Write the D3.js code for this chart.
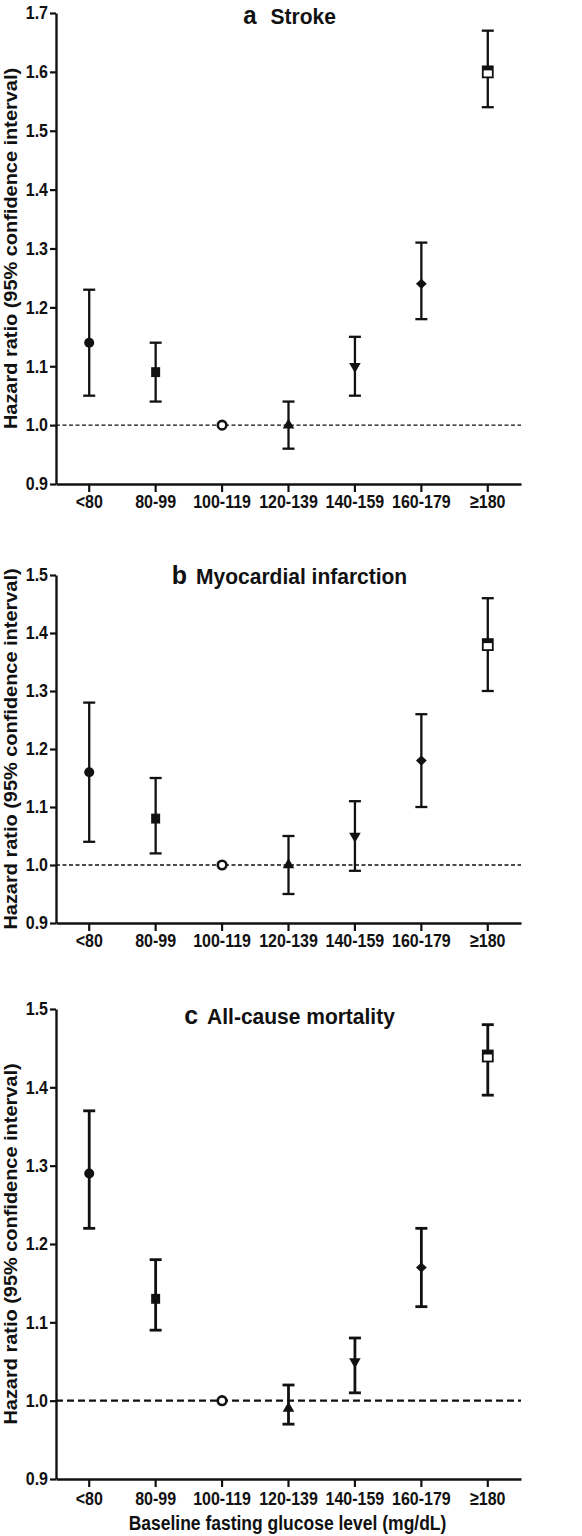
<!DOCTYPE html>
<html><head><meta charset="utf-8">
<script src="https://cdn.jsdelivr.net/npm/d3@7/dist/d3.min.js"></script>
<style>
body{margin:0;background:#fff}
text{font-family:"Liberation Sans",Arial,Helvetica,sans-serif;fill:#111}
</style>
</head><body>
<svg id="chart" width="582" height="1536"></svg>
<script>
// ---- data ----
const categories = ["<80","80-99","100-119","120-139","140-159","160-179","\u2265180"];
const markerShapes = ["circle","square","openCircle","triangleUp","triangleDown","diamond","halfSquare"];

const strokeHR = [1.14,1.09,1.00,1.00,1.10,1.24,1.60];
const strokeLo = [1.05,1.04,null,0.96,1.05,1.18,1.54];
const strokeHi = [1.23,1.14,null,1.04,1.15,1.31,1.67];

const miHR = [1.16,1.08,1.00,1.00,1.05,1.18,1.38];
const miLo = [1.04,1.02,null,0.95,0.99,1.10,1.30];
const miHi = [1.28,1.15,null,1.05,1.11,1.26,1.46];

const mortHR = [1.29,1.13,1.00,0.99,1.05,1.17,1.44];
const mortLo = [1.22,1.09,null,0.97,1.01,1.12,1.39];
const mortHi = [1.37,1.18,null,1.02,1.08,1.22,1.48];

const yTicksA = [0.9,1.0,1.1,1.2,1.3,1.4,1.5,1.6,1.7];
const yTicksB = [0.9,1.0,1.1,1.2,1.3,1.4,1.5];
const yTicksC = [0.9,1.0,1.1,1.2,1.3,1.4,1.5];

const yTitle = "Hazard ratio (95% confidence interval)";
const xTitle = "Baseline fasting glucose level (mg/dL)";
const referenceHR = 1.0;

// ---- layout ----
const panels = [
  {letter:"a", title:"Stroke", hr:strokeHR, lo:strokeLo, hi:strokeHi, ticks:yTicksA,
   top:13, bottom:484, titleY:24, letterSize:24, gap:14, dash:"4,2.5", dashW:1.4, barW:2.3},
  {letter:"b", title:"Myocardial infarction", hr:miHR, lo:miLo, hi:miHi, ticks:yTicksB,
   top:575, bottom:923, titleY:584, letterSize:25, gap:9, dash:"4,2.5", dashW:1.4, barW:2.3},
  {letter:"c", title:"All-cause mortality", hr:mortHR, lo:mortLo, hi:mortHi, ticks:yTicksC,
   top:1009, bottom:1479, titleY:1024, letterSize:25, gap:9, dash:"7,4", dashW:2.2, barW:2.8}
];
const xLeft = 56, xRight = 521;
const SY = 1.2;
const svg = d3.select("#chart");
const x = d3.scaleBand().domain(categories).range([xLeft, xRight]);

panels.forEach((p, pi) => {
  const y = d3.scaleLinear().domain([p.ticks[0], p.ticks[p.ticks.length-1]]).range([p.bottom, p.top]);
  const g = svg.append("g");

  // reference dashed line
  g.append("line")
    .attr("x1", xLeft).attr("x2", xRight)
    .attr("y1", y(referenceHR)).attr("y2", y(referenceHR))
    .attr("stroke", "#111").attr("stroke-width", p.dashW)
    .attr("stroke-dasharray", p.dash);

  // y axis
  const ya = g.append("g").attr("transform", `translate(${xLeft},0)`)
    .call(d3.axisLeft(y).tickValues(p.ticks).tickFormat(d3.format(".1f"))
      .tickSize(6).tickSizeOuter(0).tickPadding(2));
  ya.select(".domain").attr("stroke", "#111").attr("stroke-width", 2.4);
  ya.selectAll(".tick line").attr("stroke", "#111").attr("stroke-width", 2.2);
  ya.selectAll(".tick text")
    .attr("font-size", 16).attr("font-weight", "bold")
    .attr("font-family", "'Liberation Sans', Arial, sans-serif")
    .attr("fill", "#111")
    .attr("dy", "0.30em")
    .attr("transform", `scale(1,${SY})`);

  // x axis
  const xa = g.append("g").attr("transform", `translate(0,${p.bottom})`)
    .call(d3.axisBottom(x).tickSize(8).tickSizeOuter(0).tickPadding(4));
  xa.select(".domain").attr("stroke", "#111").attr("stroke-width", 2.4);
  xa.selectAll(".tick line").attr("stroke", "#111").attr("stroke-width", 2.2);
  xa.selectAll(".tick text")
    .attr("font-size", 16).attr("font-weight", "bold")
    .attr("font-family", "'Liberation Sans', Arial, sans-serif")
    .attr("fill", "#111")
    .attr("y", 0).attr("dy", 0)
    .attr("transform", `translate(0,${pi===2?26:24}) scale(1,${SY})`);

  // y title
  const cy = (p.top + p.bottom) / 2;
  g.append("text")
    .attr("transform", `translate(17,${cy}) scale(1,1.05) rotate(-90)`)
    .attr("text-anchor", "middle")
    .attr("font-size", 19).attr("font-weight", "bold")
    .text(yTitle);

  // panel title
  const t = g.append("text")
    .attr("transform", `translate(${(xLeft + xRight)/2 + 1},${p.titleY}) scale(1,1.05)`)
    .attr("text-anchor", "middle").attr("font-weight", "bold");
  t.append("tspan").attr("font-size", p.letterSize).text(p.letter);
  t.append("tspan").attr("font-size", 21).attr("dx", p.gap).text(p.title);

  // error bars
  const capW = 12;
  const rows = categories.map((c, i) => ({c, i, hr:p.hr[i], lo:p.lo[i], hi:p.hi[i], shape:markerShapes[i]}));
  const withCI = rows.filter(d => d.lo !== null);
  const cx = d => x(d.c) + x.bandwidth()/2;
  g.selectAll(".bar").data(withCI).enter().append("line")
    .attr("x1", cx).attr("x2", cx)
    .attr("y1", d => y(d.lo)).attr("y2", d => y(d.hi))
    .attr("stroke", "#111").attr("stroke-width", p.barW);
  g.selectAll(".capHi").data(withCI).enter().append("line")
    .attr("x1", d => cx(d) - capW/2).attr("x2", d => cx(d) + capW/2)
    .attr("y1", d => y(d.hi)).attr("y2", d => y(d.hi))
    .attr("stroke", "#111").attr("stroke-width", p.barW);
  g.selectAll(".capLo").data(withCI).enter().append("line")
    .attr("x1", d => cx(d) - capW/2).attr("x2", d => cx(d) + capW/2)
    .attr("y1", d => y(d.lo)).attr("y2", d => y(d.lo))
    .attr("stroke", "#111").attr("stroke-width", p.barW);

  // markers
  rows.forEach(d => {
    const mx = cx(d), my = y(d.hr);
    const m = g.append("g").attr("transform", `translate(${mx},${my})`);
    if (d.shape === "circle") {
      m.append("circle").attr("r", 5).attr("fill", "#111");
    } else if (d.shape === "square") {
      m.append("path").attr("d", d3.symbol().type(d3.symbolSquare).size(81)()).attr("fill", "#111")
        .attr("transform", "scale(1,1.1)");
    } else if (d.shape === "openCircle") {
      m.append("circle").attr("r", 4.3).attr("fill", "#fff").attr("stroke", "#111").attr("stroke-width", 2.6);
    } else if (d.shape === "triangleUp") {
      m.append("path").attr("d", d3.symbol().type(d3.symbolTriangle).size(58)()).attr("fill", "#111");
    } else if (d.shape === "triangleDown") {
      m.append("path").attr("d", d3.symbol().type(d3.symbolTriangle).size(58)()).attr("fill", "#111")
        .attr("transform", "rotate(180)");
    } else if (d.shape === "diamond") {
      m.append("path").attr("d", d3.symbol().type(d3.symbolSquare).size(58)()).attr("fill", "#111")
        .attr("transform", "scale(1,0.95) rotate(45)");
    } else if (d.shape === "halfSquare") {
      m.append("rect").attr("x", -5).attr("y", -5.5).attr("width", 10).attr("height", 11)
        .attr("fill", "#fff").attr("stroke", "#111").attr("stroke-width", 1.8);
      m.append("rect").attr("x", -5).attr("y", -5.5).attr("width", 10).attr("height", 4)
        .attr("fill", "#111");
    }
  });

  // x title on last panel
  if (pi === panels.length - 1) {
    g.append("text")
      .attr("transform", `translate(${(xLeft + xRight)/2 - 1},1530) scale(1,${SY})`)
      .attr("text-anchor", "middle")
      .attr("font-size", 17.5).attr("font-weight", "bold")
      .text(xTitle);
  }
});
</script>
</body></html>
